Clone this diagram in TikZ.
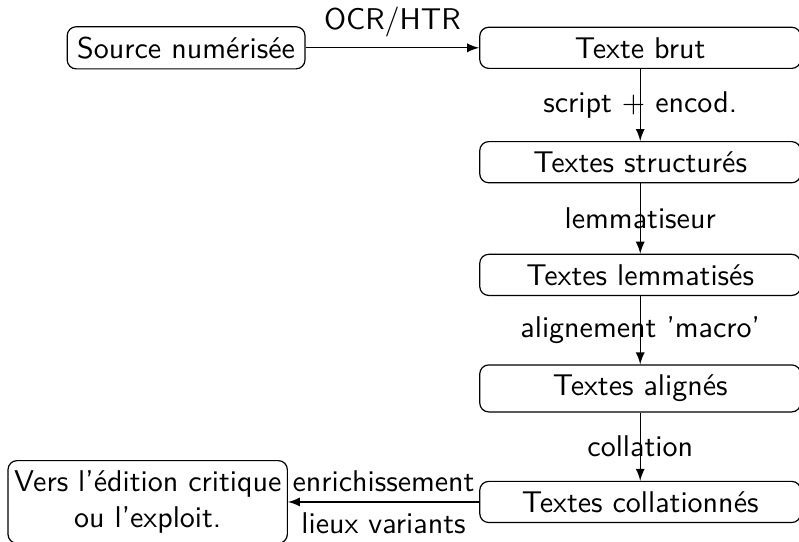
\documentclass[tikz,border=0pt]{standalone}
\begin{document}
\begin{tikzpicture}[font=\sffamily,
  etape/.style={rectangle,draw=black,rounded corners=3pt,minimum width=3.76cm},
  fin/.style={rectangle,draw=black,rounded corners=3pt,align=center,inner xsep=2pt}]
\useasboundingbox (0,0) rectangle (9.36,-6.34);
\node[rectangle,draw=black,rounded corners=3pt] (SN) at (2.18,-0.56) {Source numérisée};
\node[etape] (TB) at (7.5,-0.56) {Texte brut};
\node[etape] (TS) at (7.5,-1.9) {Textes structurés};
\node[etape] (TL) at (7.5,-3.22) {Textes lemmatisés};
\node[etape] (TA) at (7.5,-4.55) {Textes alignés};
\node[etape] (TC) at (7.5,-5.88) {Textes collationnés};
\node[fin] (V) at (1.73,-5.88) {Vers l'édition critique\\ou l'exploit.};
\draw[-latex] (SN) -- node[above] {OCR/HTR} (TB);
\draw[-latex] (TB) -- node {script $+$ encod.} (TS);
\draw[-latex] (TS) -- node {lemmatiseur} (TL);
\draw[-latex] (TL) -- node {alignement 'macro'} (TA);
\draw[-latex] (TA) -- node {collation} (TC);
\draw[-latex] (TC) -- node[above] {enrichissement} node[below] {lieux variants} (V);
\end{tikzpicture}
\end{document}
